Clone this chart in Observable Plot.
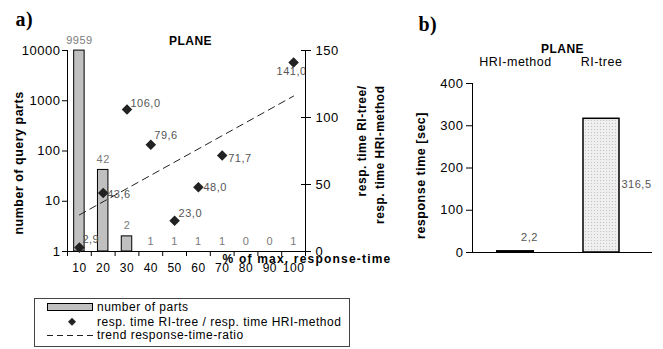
<!DOCTYPE html>
<html><head><meta charset="utf-8">
<script src="https://cdn.jsdelivr.net/npm/d3@7"></script>
<script src="https://cdn.jsdelivr.net/npm/@observablehq/plot@0.6"></script>
<style>
body{margin:0;background:#fff;}
#root{position:relative;width:663px;height:349px;font-family:Arial,"Liberation Sans",sans-serif;overflow:hidden;background:#fff;}
#root > svg{position:absolute;left:0;top:0;}
#root text{letter-spacing:0.5px;}
</style></head><body>
<svg width="0" height="0" style="position:absolute"><defs>
<pattern id="stipple" width="3" height="3" patternUnits="userSpaceOnUse"><rect width="3" height="3" fill="#efefef"/><rect width="1" height="1" fill="#c2c2c2"/></pattern>
</defs></svg>
<div id="root"></div>
<script>
// ---- data ----
const pctCategories = [10,20,30,40,50,60,70,80,90,100];
const partCounts = [9959,42,2,1,1,1,1,0,0,1];
const ratioPct = [10,20,30,40,50,60,70,100];
const ratioValues = [2.9,43.6,106.0,79.6,23.0,48.0,71.7,141.0];
const trendPct = [10,100];
const trendValues = [27.3,116.0];
const countTicks = [1,10,100,1000,10000];
const ratioTicks = [0,50,100,150];
const methods = ["HRI-method","RI-tree"];
const responseTimes = [2.2,316.5];
const timeTicks = [0,100,200,300,400];

// ---- label offsets (layout) ----
const ratioLabelOffset = {10:[3,-8,"start"],20:[4,1,"start"],30:[3.5,-6,"start"],40:[3.5,-9,"start"],50:[4,-7.5,"start"],60:[5,0,"start"],70:[6,3,"start"],100:[-2,9,"middle"]};
const timeLabelOffset = {"HRI-method":[14,-14],"RI-tree":[35,66]};

const W = 663, H = 349;
const FONT = "Arial, 'Liberation Sans', sans-serif";
const fmt = v => v.toFixed(1).replace(".", ",");
const parts = pctCategories.map((p,i)=>({pct:p, count:partCounts[i]}));
const ratios = ratioPct.map((p,i)=>({pct:p, ratio:ratioValues[i]}));
const trend = trendPct.map((p,i)=>({pct:p, ratio:trendValues[i]}));
const step = pctCategories[1]-pctCategories[0];
const xDomain = [pctCategories[0]-step/2, pctCategories[pctCategories.length-1]+step/2];
const boundaries = [xDomain[0], ...pctCategories.map(p=>p+step/2)];
const halfBar = 2.2;

const root = document.getElementById("root");

// Left chart: counts (log)
const chartA = Plot.plot({
  width: W, height: H,
  marginLeft: 67, marginRight: 358, marginTop: 50, marginBottom: 98,
  style: {background:"transparent", fontFamily: FONT, fontSize:"12px", color:"#000"},
  x: {type:"linear", domain: xDomain},
  y: {type:"log", domain:[1,10000]},
  marks: [
    Plot.rectY(parts.filter(d=>d.count>1), {x1: d=>d.pct-halfBar, x2: d=>d.pct+halfBar, y1: 1, y2: "count", fill:"#c0c0c0", stroke:"#000", strokeWidth:1}),
    Plot.text(parts, {x:"pct", y: d=>Math.max(d.count,1), text: d=>String(d.count), dy:-10.5, fill:"#7a7a7a", fontSize:11}),
    Plot.ruleX([xDomain[0]], {stroke:"#000"}),
    Plot.ruleY([1], {stroke:"#000"}),
    Plot.axisY({ticks: countTicks, tickFormat: d=>String(d), tickSize:5, tickPadding:2, fontSize:13, label:null}),
    Plot.axisX({ticks: boundaries, tickSize:5, tickFormat: ()=>"", label:null}),
    Plot.axisX({ticks: pctCategories, tickSize:0, tickPadding:12, fontSize:12, label:null}),
    Plot.text(["number of query parts"], {frameAnchor:"left", dx:-49, dy:12, rotate:-90, textAnchor:"middle", fontWeight:"bold", fontSize:12.5}),
    Plot.text(["PLANE"], {frameAnchor:"top", dx:4, dy:-14, fontWeight:"bold", fontSize:12}),
    Plot.text(["a)"], {frameAnchor:"top-left", dx:-52, dy:-39, textAnchor:"start", fontWeight:"bold", fontSize:20, fontFamily:"'Liberation Serif','Times New Roman',serif"}),
    Plot.text(["% of max. response-time"], {frameAnchor:"bottom-right", dx:-83, dy:11, textAnchor:"start", fontWeight:"bold", fontSize:12})
  ]
});
root.appendChild(chartA);

// Left chart overlay: ratio (linear, right axis)
const ratioLabelMarks = ratios.map(d => {
  const o = ratioLabelOffset[d.pct];
  return Plot.text([d], {x:"pct", y:"ratio", text: r=>fmt(r.ratio), dx:o[0], dy:o[1], textAnchor:o[2], fill:"#555", fontSize:11});
});
const chartB = Plot.plot({
  width: W, height: H,
  marginLeft: 67, marginRight: 358, marginTop: 50, marginBottom: 98,
  style: {background:"transparent", fontFamily: FONT, fontSize:"12px", color:"#000"},
  x: {type:"linear", domain: xDomain, axis:null},
  y: {type:"linear", domain:[0,150]},
  marks: [
    Plot.line(trend, {x:"pct", y:"ratio", stroke:"#222", strokeWidth:1, strokeDasharray:"7,5"}),
    Plot.dot(ratios, {x:"pct", y:"ratio", symbol:"diamond2", r:3.8, fill:"#222", stroke:"#222"}),
    ...ratioLabelMarks,
    Plot.ruleX([xDomain[1]], {stroke:"#000"}),
    Plot.axisY({anchor:"right", ticks: ratioTicks, tickSize:5, tickPadding:5, fontSize:13, label:null}),
    Plot.axisY({anchor:"left", ticks: ratioTicks, tickSize:4, tickFormat: ()=>"", label:null, dx: 238}),
    Plot.text(["resp. time RI-tree/\nresp. time HRI-method"], {frameAnchor:"top-right", dx:63.5, dy:35, textAnchor:"end", rotate:-90, lineAnchor:"middle", lineHeight:1.55, fontWeight:"bold", fontSize:12})
  ]
});
root.appendChild(chartB);

// Right chart: response time
const times = methods.map((m,i)=>({method:m, time:responseTimes[i]}));
const timeLabelMarks = times.map(d => {
  const o = timeLabelOffset[d.method];
  return Plot.text([d], {x:"method", y:"time", text: r=>fmt(r.time), dx:o[0], dy:o[1], fill:"#555", fontSize:11});
});
const chartC = Plot.plot({
  width: W, height: H,
  marginLeft: 472, marginRight: 11, marginTop: 83, marginBottom: 97,
  style: {background:"transparent", fontFamily: FONT, fontSize:"12px", color:"#000"},
  x: {type:"band", domain: methods, range:[472, 645], paddingInner:0.58, paddingOuter:0.295},
  y: {type:"linear", domain:[0,400]},
  marks: [
    Plot.barY(times.filter(d=>d.method==="HRI-method"), {x:"method", y:"time", fill:"#1a1a1a", stroke:"#000", strokeWidth:2}),
    Plot.barY(times.filter(d=>d.method==="RI-tree"), {x:"method", y:"time", fill:"url(#stipple)", stroke:"#000", strokeWidth:1.5}),
    ...timeLabelMarks,
    Plot.frame({anchor:"left", stroke:"#000"}),
    Plot.ruleY([0], {stroke:"#000"}),
    Plot.axisY({ticks: timeTicks, tickSize:6, tickPadding:3, fontSize:13, label:null}),
    Plot.axisX({anchor:"top", tickSize:0, tickPadding:18, fontSize:12.5, label:null}),
    Plot.text(["PLANE"], {frameAnchor:"top", dy:-39, fontWeight:"bold", fontSize:12}),
    Plot.text(["b)"], {frameAnchor:"top-left", dx:-54, dy:-67, textAnchor:"start", fontWeight:"bold", fontSize:20, fontFamily:"'Liberation Serif','Times New Roman',serif"}),
    Plot.text(["response time [sec]"], {frameAnchor:"left", dx:-52, dy:7.5, rotate:-90, textAnchor:"middle", fontWeight:"bold", fontSize:12.5})
  ]
});
root.appendChild(chartC);

d3.select(chartA).selectAll("text").filter(function(){return this.textContent==="% of max. response-time";}).style("letter-spacing","1.2px");

// Legend
const leg = d3.select(root).append("svg").attr("width", W).attr("height", H)
  .style("font-family", FONT).style("font-size","12px");
leg.append("rect").attr("x",34.5).attr("y",298.5).attr("width",315).attr("height",48).attr("fill","none").attr("stroke","#444");
const legendItems = ["number of parts","resp. time RI-tree / resp. time HRI-method","trend response-time-ratio"];
const legY = [306.7, 321.7, 335];
leg.append("rect").attr("x",47.5).attr("y",303.5).attr("width",45).attr("height",7).attr("fill","#c0c0c0").attr("stroke","#000");
leg.append("path").attr("d","M72,317.7L76,321.7L72,325.7L68,321.7Z").attr("fill","#222");
leg.append("line").attr("x1",47).attr("x2",93).attr("y1",335.5).attr("y2",335.5).attr("stroke","#222").attr("stroke-dasharray","6,4");
legendItems.forEach((t,i)=>{
  leg.append("text").attr("x",97).attr("y",legY[i]).attr("dy","0.35em").text(t);
});
</script>
</body></html>
